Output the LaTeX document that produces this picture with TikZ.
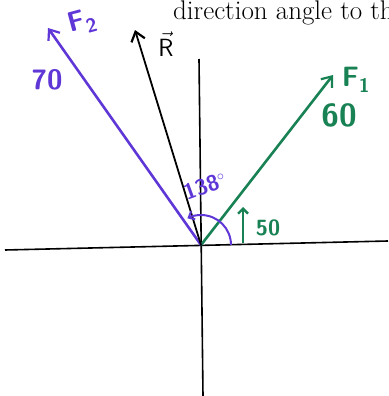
\documentclass[tikz,border=0pt]{standalone}
\usepackage{amsmath}
\usetikzlibrary{arrows.meta,calc}
\definecolor{forcepurple}{RGB}{95,55,215}
\definecolor{forcegreen}{RGB}{25,130,85}
\tikzset{axis/.style={draw,line width=1.6pt}}
\tikzset{force/.style={line width=2.6pt,-{Straight Barb[length=9pt,width=14pt,line width=2.2pt]}}}
\tikzset{hand/.style={font=\sffamily\bfseries\fontsize{28}{28}\selectfont}}

\begin{document}
\begin{tikzpicture}[x=1pt,y=-1pt]
    \useasboundingbox (0,0) rectangle (388,396);
    % axes
    \coordinate (O) at (201,245);
    \coordinate (xl) at (5,250);
    \coordinate (xr) at (388,241);
    \coordinate (yt) at (199,59);
    \coordinate (yb) at (203,396);
    \draw [axis] (xl) -- (xr);
    \draw [axis] (yt) -- (yb);
    % forces
    \coordinate (F1) at (333,75);
    \coordinate (F2) at (48,28);
    \coordinate (R) at (135,30);
    \draw [force,forcegreen] (O) -- (F1);
    \draw [force,forcepurple] (O) -- (F2);
    \draw [force,black,line width=1.8pt] (O) -- (R);
    % labels
    \node [hand,forcegreen] (lF1) at (356,80) {F\textsubscript{1}};
    \node [hand,forcegreen,font=\sffamily\bfseries\fontsize{32}{32}\selectfont] (l60) at (339,115) {60};
    \node [hand,forcepurple,rotate=15] (lF2) at (82,22) {F\textsubscript{2}};
    \node [hand,forcepurple] (l70) at (47,80) {70};
    \node [hand,font=\sffamily\bfseries\fontsize{26}{26}\selectfont] (lR) at (166,44) {$\vec{\mathsf{R}}$};
    % angles
    \draw [forcepurple,line width=2pt,-{Straight Barb[length=5pt,width=9pt]}]
        ($(O)+(30,0)$) arc [start angle=0,end angle=-117,radius=30];
    \node [hand,forcepurple,rotate=20,font=\sffamily\bfseries\fontsize{22}{22}\selectfont] (l138) at (205,186) {138$^\circ$};
    \coordinate (a50b) at (243,243);
    \coordinate (a50t) at (243,207);
    \draw [forcegreen,line width=2.4pt,-{Straight Barb[length=5pt,width=10pt]}] (a50b) -- (a50t);
    \node [hand,forcegreen,font=\sffamily\bfseries\fontsize{22}{22}\selectfont] (l50) at (268,228) {50};
    % caption text
    \node [anchor=base west,inner sep=0pt,font=\fontsize{27}{27}\selectfont] (cap) at (173,20) {direction angle to the};
\end{tikzpicture}
\end{document}
